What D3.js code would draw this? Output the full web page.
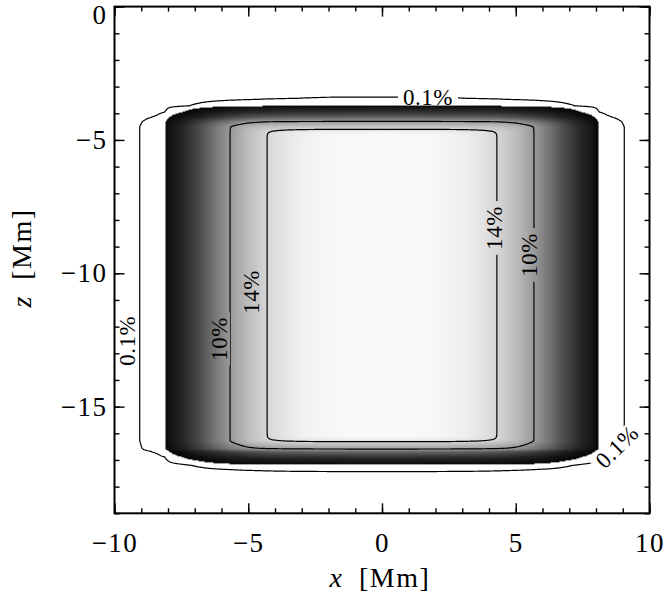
<!DOCTYPE html>
<html><head><meta charset="utf-8">
<script src="https://cdn.jsdelivr.net/npm/d3@7"></script>
<style>
body{margin:0;background:#fff}
svg{display:block}
</style>
</head><body>
<svg id="chart" width="665" height="593"></svg>
<script>
// ---------------- data ----------------
const xMajorTicks = [-10, -5, 0, 5, 10];
const zMajorTicks = [0, -5, -10, -15];
// horizontal profile of the quantity (percent) vs |x| [Mm]
const xAbsKnots = [0, 1, 2, 3, 3.6, 4.3, 5.0, 5.68, 6.3, 6.8, 7.44, 7.93, 8.11, 8.4, 8.67, 9.05, 9.5, 10];
const xPercent  = [16.3, 16.25, 16.1, 15.6, 15.0, 14.0, 12.3, 10.0, 7.4, 5.0, 2.5, 1.2, 0.5, 0.3, 0.21, 0.1, 0.04, 0.01];
// outer vertical envelope (fraction) vs z [Mm]
const zKnots  = [0, -3.0, -3.38, -3.46, -3.5, -3.61, -3.72, -3.8, -3.95, -4.14, -4.32, -4.5,
                 -16.3, -16.58, -16.69, -16.89, -17.04, -17.15, -17.18, -17.27, -17.37, -17.43, -17.8, -19];
const zFactor = [0, 0.001, 0.0061, 0.0066, 0.0087, 0.02, 0.029, 0.1, 0.2, 0.42, 0.8, 1.0,
                 1.0, 0.8, 0.42, 0.2, 0.1, 0.048, 0.029, 0.02, 0.009, 0.0061, 0.001, 0];
// inner vertical cap (percent) vs z [Mm]
const capKnots   = [0, -3.6, -3.72, -3.8, -4.0, -4.14, -4.32, -4.62, -4.9, -5.3,
                    -15.6, -16.0, -16.3, -16.58, -16.76, -16.9, -17.1, -17.18, -17.3, -19];
const capPercent = [1000, 1000, 1.5, 2.0, 4.0, 6.5, 10.4, 14.6, 25, 100,
                    100, 25, 14.6, 10.4, 6.5, 4.0, 2.0, 1.5, 1000, 1000];
const contourLevels = [0.1, 10, 14];
const maskLevel = 0.5;     // below this the image is left white
const grayMax = 16.6;      // value shown as white
const contourLabels = [
  {text: "0.1%", x: 1.72,  z: -3.39,  angle: 0},
  {text: "0.1%", x: -9.51, z: -12.53, angle: -90},
  {text: "0.1%", x: 8.79,  z: -16.51, angle: -45},
  {text: "14%",  x: -4.86, z: -10.7,  angle: -90},
  {text: "10%",  x: -6.06, z: -12.46, angle: -90},
  {text: "14%",  x: 4.22,  z: -8.3,   angle: -90},
  {text: "10%",  x: 5.5,   z: -9.31,  angle: -90}
];

const FONT = '"Liberation Serif", "DejaVu Serif", serif';

// ---------------- layout ----------------
const svg = d3.select("#chart");
const L = 114.5, R = 649.5, T = 6.6, B = 513.3;
const x = d3.scaleLinear().domain([-10, 10]).range([L, R]);
const y = d3.scaleLinear().domain([-19, 0]).range([B, T]);
const xProf = d3.scaleLinear().domain(xAbsKnots).range(xPercent).clamp(true);
const zProf = d3.scaleLinear().domain(zKnots).range(zFactor).clamp(true);
const cProf = d3.scaleLinear().domain(capKnots).range(capPercent).clamp(true);
const P_EXP = 10;
function field(xv, zv) {
  const p = xProf(Math.abs(xv)) * zProf(zv);
  if (p <= 0) return 0;
  const c = cProf(zv);
  return 1 / Math.pow(Math.pow(p, -P_EXP) + Math.pow(c, -P_EXP), 1 / P_EXP);
}

// ---------------- image ----------------
const W = Math.round(R - L), H = Math.round(B - T);
const canvas = document.createElement("canvas");
canvas.width = W; canvas.height = H;
const ctx = canvas.getContext("2d");
const img = ctx.createImageData(W, H);
for (let j = 0; j < H; j++) {
  const zv = y.invert(T + (j + 0.5) * (B - T) / H);
  for (let i = 0; i < W; i++) {
    const xv = x.invert(L + (i + 0.5) * (R - L) / W);
    const v = field(xv, zv);
    const g = v < maskLevel ? 255 : Math.round(255 * Math.min(1, v / grayMax));
    const k = 4 * (j * W + i);
    img.data[k] = img.data[k + 1] = img.data[k + 2] = g;
    img.data[k + 3] = 255;
  }
}
ctx.putImageData(img, 0, 0);
svg.append("image")
  .attr("x", L).attr("y", T).attr("width", R - L).attr("height", B - T)
  .attr("preserveAspectRatio", "none")
  .attr("href", canvas.toDataURL());

// ---------------- contours ----------------
const dg = 0.04;
const nx = Math.round(20 / dg) + 1, nz = Math.round(19 / dg) + 1;
const vals = new Float64Array(nx * nz);
for (let j = 0; j < nz; j++) for (let i = 0; i < nx; i++) vals[j * nx + i] = field(-10 + i * dg, -j * dg);
const contours = d3.contours().size([nx, nz]).thresholds(contourLevels)(vals);
const proj = d3.geoTransform({point(px, py) { this.stream.point(x(-10 + (px - 0.5) * dg), y(-(py - 0.5) * dg)); }});
const gpath = d3.geoPath(proj);

const contourG = svg.append("g").attr("mask", "url(#gapmask)");

// labels (measure first for gaps)
const labG = svg.append("g");
const labs = labG.selectAll("text").data(contourLabels).join("text")
  .attr("transform", d => `translate(${x(d.x)},${y(d.z)}) rotate(${d.angle})`)
  .attr("text-anchor", "middle").attr("dominant-baseline", "central")
  .style("font-family", FONT).style("font-size", "23px").style("letter-spacing", "0.5px").attr("fill", "#000")
  .text(d => d.text);

const defs = svg.append("defs");
const mask = defs.append("mask").attr("id", "gapmask").attr("maskUnits", "userSpaceOnUse")
  .attr("x", 0).attr("y", 0).attr("width", 665).attr("height", 593);
mask.append("rect").attr("x", 0).attr("y", 0).attr("width", 665).attr("height", 593).attr("fill", "#fff");
labs.each(function(d) {
  const w = this.getComputedTextLength() + 10;
  mask.append("rect")
    .attr("transform", `translate(${x(d.x)},${y(d.z)}) rotate(${d.angle})`)
    .attr("x", -w / 2).attr("y", -10).attr("width", w).attr("height", 20).attr("fill", "#000");
});

contourG.selectAll("path").data(contours).join("path")
  .attr("d", gpath).attr("fill", "none").attr("stroke", "#000").attr("stroke-width", 1.2);

// ---------------- axes ----------------
const tickW = 1.4;
function styleAxis(g) {
  g.select(".domain").remove();
  g.attr("font-family", null).attr("font-size", null);
  g.selectAll("line").attr("stroke", "#000").attr("stroke-width", tickW);
  g.selectAll("text").style("font-family", FONT).style("font-size", "27px").style("letter-spacing", "1.5px").attr("fill", "#000");
}
const xMinor = x.ticks(20), zMinor = y.ticks(19);
svg.append("g").attr("transform", `translate(0,${B})`).call(d3.axisBottom(x).tickValues(xMinor).tickSize(-5).tickFormat("")).call(styleAxis);
svg.append("g").attr("transform", `translate(0,${T})`).call(d3.axisTop(x).tickValues(xMinor).tickSize(-5).tickFormat("")).call(styleAxis);
svg.append("g").attr("transform", `translate(${L},0)`).call(d3.axisLeft(y).tickValues(zMinor).tickSize(-5).tickFormat("")).call(styleAxis);
svg.append("g").attr("transform", `translate(${R},0)`).call(d3.axisRight(y).tickValues(zMinor).tickSize(-5).tickFormat("")).call(styleAxis);

svg.append("g").attr("transform", `translate(0,${B})`)
  .call(d3.axisBottom(x).tickValues(xMajorTicks).tickSize(-10).tickPadding(20)).call(styleAxis);
svg.append("g").attr("transform", `translate(0,${T})`).call(d3.axisTop(x).tickValues(xMajorTicks).tickSize(-10).tickFormat("")).call(styleAxis);
const yl = svg.append("g").attr("transform", `translate(${L},0)`)
  .call(d3.axisLeft(y).tickValues(zMajorTicks).tickSize(-10).tickPadding(7)).call(styleAxis);
yl.selectAll("text").attr("dy", d => d === 0 ? "0.62em" : "0.32em");
svg.append("g").attr("transform", `translate(${R},0)`).call(d3.axisRight(y).tickValues(zMajorTicks).tickSize(-10).tickFormat("")).call(styleAxis);

// frame
svg.append("rect").attr("x", L).attr("y", T).attr("width", R - L).attr("height", B - T)
  .attr("fill", "none").attr("stroke", "#000").attr("stroke-width", 2);

// titles
const xt = svg.append("text").attr("x", (L + R) / 2 - 2).attr("y", 587).attr("text-anchor", "middle")
  .style("font-family", FONT).style("font-size", "28px").style("letter-spacing", "1.5px").attr("fill", "#000");
xt.append("tspan").style("font-style", "italic").text("x");
xt.append("tspan").text("\u2002[Mm]");
const zt = svg.append("text").attr("transform", `translate(31,${258}) rotate(-90)`).attr("text-anchor", "middle")
  .style("font-family", FONT).style("font-size", "28px").style("letter-spacing", "1.5px").attr("fill", "#000");
zt.append("tspan").style("font-style", "italic").text("z");
zt.append("tspan").text("\u2002[Mm]");
</script>
</body></html>
